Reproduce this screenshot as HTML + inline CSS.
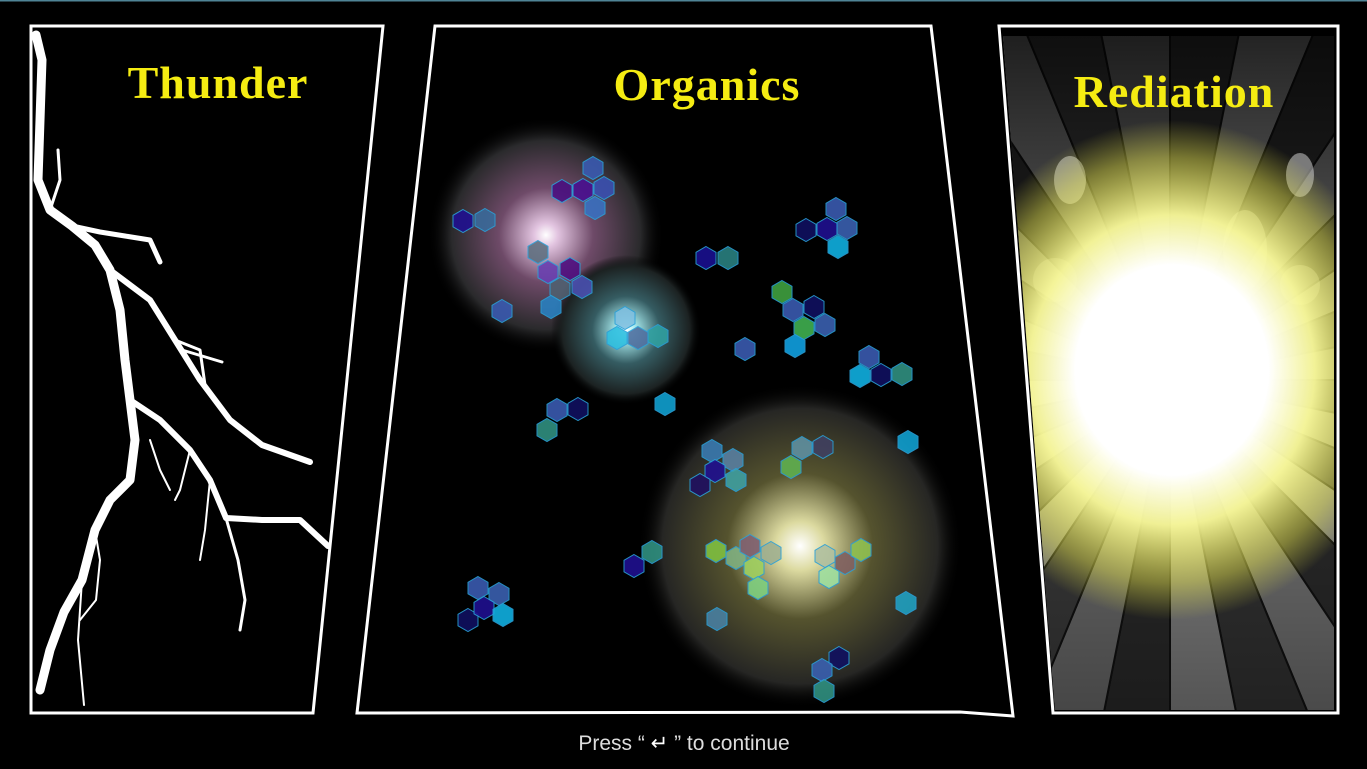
<!DOCTYPE html>
<html><head><meta charset="utf-8"><style>
html,body{margin:0;padding:0;background:#000;overflow:hidden;width:1367px;height:769px;}
svg{display:block;}
.t{font-family:"Liberation Serif",serif;font-weight:bold;fill:#f5ec12;font-size:46px;text-anchor:middle;letter-spacing:1px;}
</style></head><body>
<svg id="s" width="1367" height="769" viewBox="0 0 1367 769">
<defs>
<radialGradient id="gPurple"><stop offset="0" stop-color="#fff"/><stop offset="0.1" stop-color="#e2c4e0"/><stop offset="0.4" stop-color="#6e4a68"/><stop offset="0.8" stop-color="#2a2a2c"/><stop offset="1" stop-color="#000" stop-opacity="0"/></radialGradient>
<radialGradient id="gCyan"><stop offset="0" stop-color="#fff"/><stop offset="0.12" stop-color="#a8ecf0"/><stop offset="0.45" stop-color="#355c62"/><stop offset="0.85" stop-color="#1c2222"/><stop offset="1" stop-color="#000" stop-opacity="0"/></radialGradient>
<radialGradient id="gYellow"><stop offset="0" stop-color="#fff"/><stop offset="0.15" stop-color="#dcdaa0"/><stop offset="0.45" stop-color="#55532e"/><stop offset="0.85" stop-color="#262624"/><stop offset="1" stop-color="#000" stop-opacity="0"/></radialGradient>
<radialGradient id="gSun" cx="0.5" cy="0.5" r="0.5"><stop offset="0" stop-color="#fff"/><stop offset="0.42" stop-color="#fff"/><stop offset="0.62" stop-color="#fafa9a" stop-opacity="0.95"/><stop offset="0.85" stop-color="#eeec50" stop-opacity="0.45"/><stop offset="1" stop-color="#e8e640" stop-opacity="0"/></radialGradient>
<linearGradient id="gTop" x1="0" y1="0" x2="0" y2="1"><stop offset="0" stop-color="#000" stop-opacity="0.75"/><stop offset="0.35" stop-color="#000" stop-opacity="0.3"/><stop offset="0.6" stop-color="#000" stop-opacity="0"/><stop offset="1" stop-color="#000" stop-opacity="0.35"/></linearGradient>
<clipPath id="c3"><polygon points="1003,36 1334,36 1334,710 1055,710"/></clipPath>
</defs>
<rect width="1367" height="769" fill="#000"/>
<rect width="1367" height="1.5" fill="#4f8496"/>

<g>
<g fill="none" stroke="#fff" stroke-linecap="round" stroke-linejoin="round">
<polyline stroke-width="9" points="36,35 42,60 40,120 38,180 50,210 72,226 95,245 110,270 120,310 125,360 130,400 135,440 130,480 110,500 95,530 82,580 64,612 50,650 40,690"/>
<polyline stroke-width="5" points="72,226 100,232 125,236 150,240 160,262"/>
<polyline stroke-width="6" points="110,270 150,300 175,340 200,380 230,420 262,445 310,462"/>
<polyline stroke-width="6" points="130,400 160,420 190,450 210,480 226,518 262,520 300,520 328,546"/>
<polyline stroke-width="3" points="150,300 182,350 222,362"/>
<polyline stroke-width="3" points="175,340 200,350 205,385"/>
<polyline stroke-width="3" points="226,518 238,560 245,600 240,630"/>
<polyline stroke-width="2" points="190,450 180,490 175,500"/>
<polyline stroke-width="2" points="95,530 100,560 96,600 80,620"/>
<polyline stroke-width="2" points="82,580 78,640 84,705"/>
<polyline stroke-width="2" points="210,480 205,530 200,560"/>
<polyline stroke-width="3" points="50,210 60,180 58,150"/>
<polyline stroke-width="2" points="150,440 160,470 170,490"/>
</g>
<polygon points="31,26 383,26 313,713 31,713" fill="none" stroke="#fff" stroke-width="3"/>
<text class="t" x="218" y="98">Thunder</text>
</g>

<g>
<circle cx="546" cy="235" r="118" fill="url(#gPurple)"/>
<circle cx="626" cy="330" r="75" fill="url(#gCyan)"/>
<circle cx="800" cy="546" r="162" fill="url(#gYellow)"/>
<g id="hexes"></g>
<polygon points="435,26 931,26 1013,716 960,712 357,713" fill="none" stroke="#fff" stroke-width="3"/>
<text class="t" x="707" y="100">Organics</text>
</g>

<g>
<g clip-path="url(#c3)">
<rect x="1000" y="30" width="340" height="690" fill="#555"/>
<g id="rays"></g>
<rect x="1000" y="30" width="340" height="690" fill="url(#gTop)"/>
<ellipse cx="1070" cy="180" rx="16" ry="24" fill="#ddd" opacity="0.5"/>
<ellipse cx="1300" cy="175" rx="14" ry="22" fill="#ddd" opacity="0.5"/>
<ellipse cx="1245" cy="250" rx="22" ry="40" fill="#fff" opacity="0.35"/>
<circle cx="1300" cy="285" r="20" fill="#fff" opacity="0.3"/>
<circle cx="1055" cy="280" r="22" fill="#fff" opacity="0.25"/>
<ellipse cx="1172" cy="370" rx="230" ry="250" fill="url(#gSun)"/>
</g>
<polygon points="999,26 1338,26 1338,713 1053,713" fill="none" stroke="#fff" stroke-width="3"/>
<text class="t" x="1174" y="107">Rediation</text>
</g>

<text x="684" y="750" font-family="'Liberation Sans',sans-serif" font-size="21" fill="#ddd" text-anchor="middle">Press “ <tspan fill="#fff">↵</tspan> ” to continue</text>
</svg>
<script>
const hexX=[463,485,562,583,593,604,595,538,548,570,560,582,551,502,625,617,638,658,706,728,806,827,836,847,838,782,793,814,804,825,795,745,869,860,881,902,665,557,578,547,908,712,733,715,700,736,802,823,791,634,652,716,736,750,771,754,758,825,845,861,829,478,499,468,484,503,717,906,839,822,824];
const hexY=[221,220,191,190,168,188,208,252,272,269,289,287,307,311,318,338,338,336,258,258,230,229,209,228,247,292,310,307,328,325,346,349,357,376,375,374,404,410,409,430,442,451,460,471,485,480,448,447,467,566,552,551,558,546,553,568,588,556,563,550,577,588,594,620,608,615,619,603,658,670,691];
const hexC=['#201090','#3a6a9a','#4a1080','#4a1090','#3a5ab0','#3a50b0','#3a70c0','#607080','#6a40b0','#501080','#506070','#4a50b0','#2a80c0','#3a5ab0','#80c0e0','#30c0e0','#5070a0','#30a0a0','#1a1090','#2a8080','#101060','#201090','#3a5ab0','#3a60b0','#10b0e0','#40a040','#3a5ab0','#101060','#40b050','#3a60b0','#10a0e0','#3a5ab0','#3a5ab0','#10b0e0','#101060','#309080','#10a0d0','#3a5ab0','#101060','#309080','#10a0d0','#3a7ab0','#5a80a0','#201090','#201060','#40a0a0','#6090a0','#404060','#60b050','#201090','#309080','#80c040','#80b080','#806070','#a0b090','#a0d060','#80d080','#b0c0a0','#806060','#90c050','#a0e0a0','#3a5ab0','#3a60b0','#101060','#201090','#10b0e0','#4a80a0','#20a0c0','#101060','#3a60b0','#309080'];
const NS='http://www.w3.org/2000/svg';
const hg=document.getElementById('hexes');
for(let i=0;i<hexX.length;i++){
  let p=[];for(let k=0;k<6;k++){const a=Math.PI/3*k-Math.PI/2;p.push((hexX[i]+11.5*Math.cos(a)).toFixed(1)+','+(hexY[i]+11.5*Math.sin(a)).toFixed(1));}
  const el=document.createElementNS(NS,'polygon');
  el.setAttribute('points',p.join(' '));
  el.setAttribute('fill',hexC[i]);el.setAttribute('stroke','#2aa0d8');el.setAttribute('stroke-width','1');el.setAttribute('opacity','0.9');
  
  
  hg.appendChild(el);
}
const rayShades=['#333','#777','#3a3a3a','#888','#2a2a2a','#707070','#333','#808080','#2a2a2a','#6a6a6a','#3a3a3a','#888','#303030','#777','#404040','#888','#2c2c2c','#707070','#363636','#808080','#2a2a2a','#777','#3a3a3a','#707070','#333','#888','#2c2c2c','#777','#3a3a3a','#808080','#303030','#6a6a6a'];
const rg=document.getElementById('rays');
const cx=1170,cy=380;
for(let i=0;i<rayShades.length;i++){
  const a0=2*Math.PI*i/rayShades.length,a1=2*Math.PI*(i+1)/rayShades.length;
  const el=document.createElementNS(NS,'polygon');
  el.setAttribute('points',cx+','+cy+' '+(cx+900*Math.cos(a0))+','+(cy+900*Math.sin(a0))+' '+(cx+900*Math.cos(a1))+','+(cy+900*Math.sin(a1)));
  el.setAttribute('fill',rayShades[i]);el.setAttribute('stroke','#111');el.setAttribute('stroke-width','2');
  
  
  rg.appendChild(el);
}
</script>
</body></html>
